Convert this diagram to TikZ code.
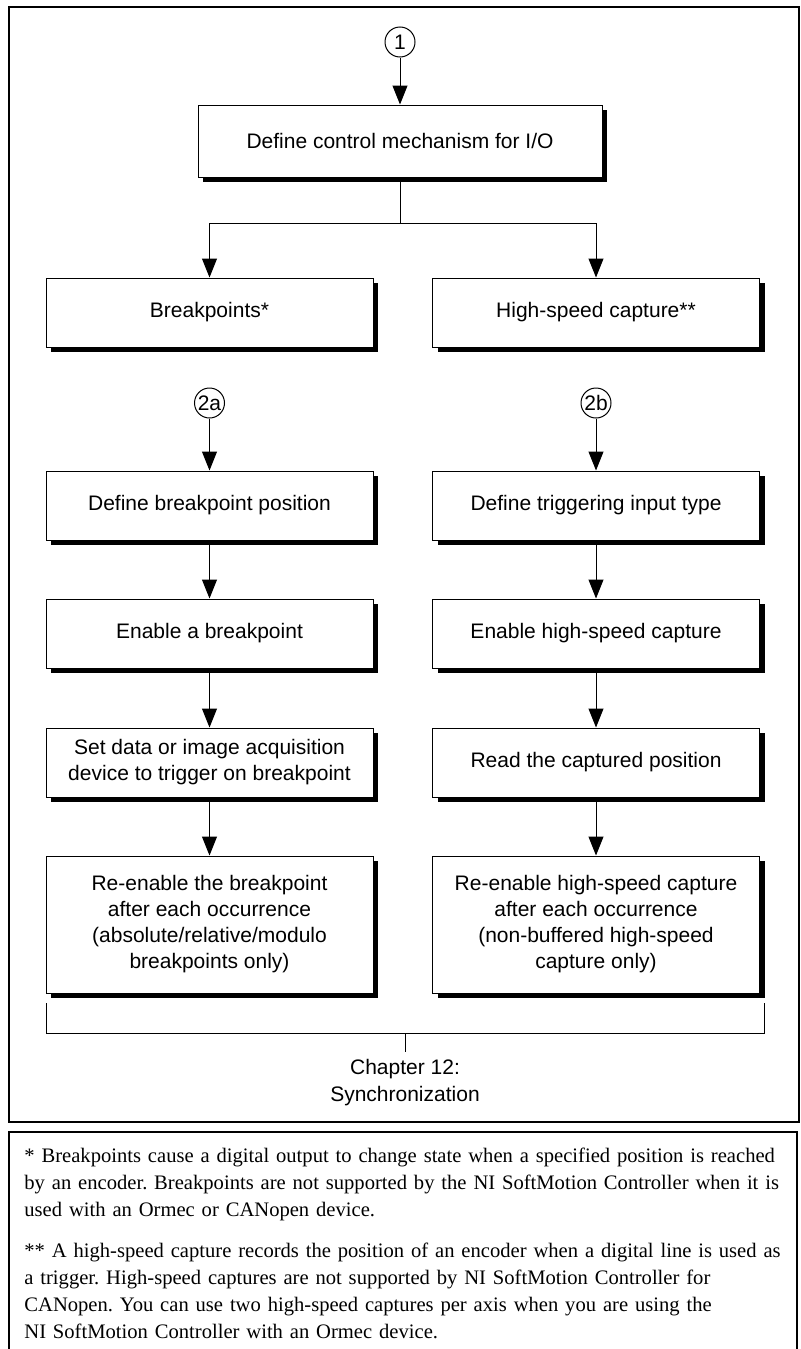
\documentclass[tikz,border=0pt]{standalone}
\usepackage{fontspec}
\setmainfont{Liberation Serif}
\newfontfamily\helv{Liberation Sans}
\usetikzlibrary{arrows.meta,shadows}

\begin{document}
\begin{tikzpicture}[
    x=0.5pt, y=-0.5pt,
    stepbox/.style={
        rectangle,
        draw=black,
        fill=white,
        line width=0.5pt,
        minimum width=163.5pt,
        minimum height=34.5pt,
        font=\helv\fontsize{10.5}{13}\selectfont,
        align=center,
        drop shadow={shadow xshift=2.5pt, shadow yshift=-2.5pt, fill=black, opacity=1}
    },
    conn/.style={
        circle,
        draw=black,
        line width=0.5pt,
        inner sep=0pt,
        minimum size=15pt,
        font=\helv\fontsize{10.5}{13}\selectfont
    },
    flow/.style={-{Triangle[length=9.5pt,width=7.5pt]}, line width=0.5pt},
    note/.style={anchor=base west, align=left, text width=395pt, inner sep=0pt,
        font=\fontsize{10.3}{13.5}\selectfont\frenchspacing}
]

\useasboundingbox (0,0) rectangle (801,1349);
\draw[line width=1pt] (9,7) rectangle (799,1122);
\draw[line width=1pt] (9,1349) -- (9,1132) -- (797,1132) -- (797,1349);

\node[conn] (cone) at (400,42) {1};
\node[stepbox, minimum width=202pt, minimum height=36pt] (ctrl) at (400,141) {Define control mechanism for I/O};

\node[stepbox] (bkpt) at (209.5,312.5) {Breakpoints*};
\node[stepbox] (hsc) at (596,312.5) {High-speed capture**};

\node[conn] (ctwoa) at (209.5,403) {2a};
\node[conn] (ctwob) at (596,403) {2b};

\node[stepbox] (bkptpos) at (209.5,505.5) {Define breakpoint position};
\node[stepbox] (bkpten) at (209.5,633.5) {Enable a breakpoint};
\node[stepbox] (bkptdaq) at (209.5,762.5) {Set data or image acquisition\\device to trigger on breakpoint};
\node[stepbox, minimum height=68.5pt] (bkptre) at (209.5,924.5) {Re-enable the breakpoint\\after each occurrence\\(absolute/relative/modulo\\breakpoints only)};

\node[stepbox] (trigtype) at (596,505.5) {Define triggering input type};
\node[stepbox] (hscen) at (596,633.5) {Enable high-speed capture};
\node[stepbox] (hscread) at (596,762.5) {Read the captured position};
\node[stepbox, minimum height=68.5pt] (hscre) at (596,924.5) {Re-enable high-speed capture\\after each occurrence\\(non-buffered high-speed\\capture only)};

\draw[flow] (cone) -- (ctrl);
\coordinate (jn) at (400,223);
\draw[line width=0.5pt] (ctrl) -- (jn);
\draw[flow] (jn) -| (bkpt);
\draw[flow] (jn) -| (hsc);

\foreach \a/\b in {ctwoa/bkptpos, bkptpos/bkpten, bkpten/bkptdaq, bkptdaq/bkptre,
                   ctwob/trigtype, trigtype/hscen, hscen/hscread, hscread/hscre}
    \draw[flow] (\a) -- (\b);

\coordinate (brl) at (46,1003);
\coordinate (brr) at (764,1003);
\coordinate (brm) at (405,1033);
\draw[line width=0.5pt] (brl) |- (brm) -| (brr);
\node[font=\helv\fontsize{10.5}{13.5}\selectfont, align=center, anchor=base] (chap) at (405,1101) {Chapter 12:\\Synchronization};
\draw[line width=0.5pt] (brm) -- (chap);

\node[note] (notea) at (24,1162) {* Breakpoints cause a digital output to change state when a specified position is reached\\
by an encoder. Breakpoints are not supported by the NI SoftMotion Controller when it is\\
used with an Ormec or CANopen device.};
\node[note] (noteb) at (24,1257) {** A high-speed capture records the position of an encoder when a digital line is used as\\
a trigger. High-speed captures are not supported by NI SoftMotion Controller for\\
CANopen. You can use two high-speed captures per axis when you are using the\\
NI SoftMotion Controller with an Ormec device.};

\end{tikzpicture}
\end{document}
